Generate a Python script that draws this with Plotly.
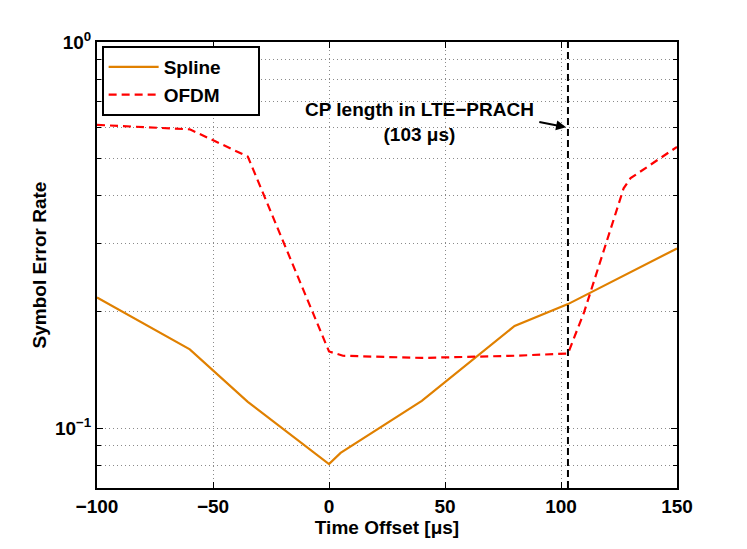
import plotly.graph_objects as go

# time offsets [us] and symbol error rates
spline_x = [-100, -60, -35, 0, 5, 40, 80, 103, 150]
spline_ser = [0.218, 0.160, 0.117, 0.0807, 0.0863, 0.1177, 0.184, 0.2095, 0.292]

ofdm_x = [-100, -60, -35, 0, 6, 40, 80, 103, 110, 120, 127, 130, 150]
ofdm_ser = [0.610, 0.594, 0.505, 0.158, 0.154, 0.152, 0.154, 0.156, 0.200, 0.311, 0.418, 0.444, 0.535]

cp_len = 103  # CP length in LTE-PRACH [us]

x_ticks = [-100, -50, 0, 50, 100, 150]
y_major = [0.1, 1]
y_major_text = ["10<sup>\u22121</sup>", "10<sup>0</sup>"]
y_minor = [0.08, 0.09, 0.2, 0.3, 0.4, 0.5, 0.6, 0.7, 0.8, 0.9]

FONT = "Liberation Sans, Arial, Helvetica, sans-serif"
GRID = "#8a8a8a"
PAD = "\u00a0" * 6  # widens the legend box like the original

fig = go.Figure()
fig.add_trace(go.Scatter(x=spline_x, y=spline_ser, mode="lines", name="Spline" + PAD,
                         line=dict(color="#E08000", width=2.2)))
fig.add_trace(go.Scatter(x=ofdm_x, y=ofdm_ser, mode="lines", name="OFDM" + PAD,
                         line=dict(color="#FF0000", width=2.2, dash="8px,5px")))

# CP length marker
fig.add_shape(type="line", xref="x", yref="paper", x0=cp_len, x1=cp_len, y0=0, y1=1,
              line=dict(color="black", width=2, dash="7px,4px"))

# annotation positions on the log axis are given in log10 units
fig.add_annotation(x=38.8, y=-0.206, xref="x", yref="y",
                   text="CP length in LTE\u2212PRACH<br>(103 \u03bcs)", showarrow=False,
                   font=dict(family=FONT, size=19, color="black", weight="bold"))
fig.add_annotation(x=cp_len - 0.8, y=-0.221, xref="x", yref="y",
                   ax=90, ay=-0.2065, axref="x", ayref="y", text="",
                   showarrow=True, arrowhead=2, arrowsize=1, arrowwidth=2, arrowcolor="black")

fig.update_layout(
    width=739, height=541,
    margin=dict(l=89, r=70, t=34, b=61),
    paper_bgcolor="white", plot_bgcolor="white",
    font=dict(family=FONT, size=19, color="black", weight="bold"),
    legend=dict(x=0.008, y=0.991, xanchor="left", yanchor="top",
                bgcolor="white", bordercolor="black", borderwidth=2,
                font=dict(size=19), itemwidth=50, tracegroupgap=0),
    showlegend=True,
)

fig.update_xaxes(
    range=[-100, 150], tickvals=x_ticks,
    ticktext=[str(v).replace("-", "\u2212") for v in x_ticks],
    showline=True, linecolor="black", linewidth=2, mirror="ticks",
    ticks="inside", ticklen=6, tickwidth=1, tickcolor="black",
    showgrid=True, gridcolor=GRID, gridwidth=1, griddash="1px,3px",
    zeroline=False,
    title=dict(text="Time Offset [\u03bcs]", standoff=0, font=dict(size=19)),
)
fig.update_yaxes(
    type="log", range=[-1.155, 0],
    tickvals=y_major, ticktext=y_major_text,
    showline=True, linecolor="black", linewidth=2, mirror="ticks",
    ticks="inside", ticklen=6, tickwidth=1, tickcolor="black",
    showgrid=True, gridcolor=GRID, gridwidth=1, griddash="1px,3px",
    minor=dict(tickvals=y_minor, ticks="inside", ticklen=4, tickcolor="black",
               showgrid=True, gridcolor=GRID, gridwidth=1, griddash="1px,3px"),
    zeroline=False,
    title=dict(text="Symbol Error Rate", standoff=3, font=dict(size=19)),
)

fig.write_html("out.html")
